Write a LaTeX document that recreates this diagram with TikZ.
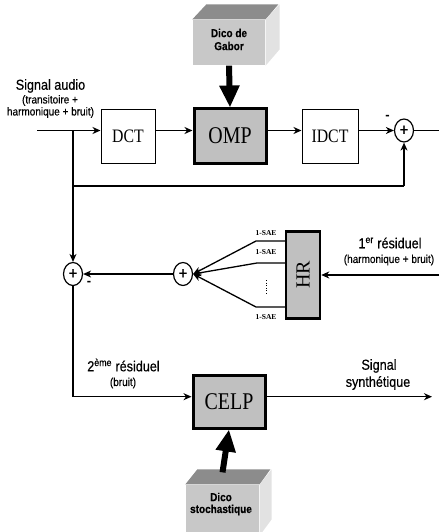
\documentclass[tikz,border=0pt]{standalone}
\usepackage{fontspec}
\setmainfont{Liberation Sans}
\newfontfamily\lblfont[FakeStretch=0.87,FakeBold=0.4]{Liberation Sans}
\newfontfamily\boxfont[FakeStretch=0.83]{Liberation Serif}
\newfontfamily\hrfont{Liberation Serif}
\usetikzlibrary{arrows.meta,shapes.geometric,calc}

\definecolor{boxgray}{RGB}{192,192,192}
\definecolor{cubefront}{RGB}{200,200,200}
\definecolor{cubetop}{RGB}{140,140,140}
\definecolor{cubeside}{RGB}{226,226,226}

\begin{document}
\begin{tikzpicture}[x=1pt,y=-1pt,
  line width=1.3pt,
  >={Stealth[length=8pt,width=7pt,inset=2.5pt]},
  lbl/.style={font=\fontsize{14.5}{16}\selectfont\lblfont,inner sep=0pt},
  sublbl/.style={font=\fontsize{11.5}{13}\selectfont\lblfont,inner sep=0pt},
  cubelbl/.style={font=\fontsize{11.5}{13}\selectfont\lblfont\bfseries,inner sep=0pt},
  sae/.style={font=\fontsize{7.5}{8}\selectfont\hrfont\bfseries,inner sep=0pt},
  thinbox/.style={draw,line width=1pt,fill=white,inner sep=0pt,
    font=\fontsize{19}{20}\selectfont\boxfont},
  thickbox/.style={draw,line width=3pt,fill=boxgray,inner sep=0pt,
    font=\fontsize{24}{26}\selectfont\boxfont},
  sumnode/.style={draw,ellipse,line width=1.2pt,inner sep=0pt,
    minimum width=19pt,minimum height=23pt,
    font=\fontsize{17}{17}\selectfont\lblfont},
  bigarrow/.style={line width=6pt,-{Triangle[length=22pt,width=19pt]}},
  cubeface/.style={inner sep=0pt,fill=cubefront}
]
\useasboundingbox (0,0) rectangle (439,532);

% ---------- codebook cubes ----------
\node[cubeface,minimum width=72pt,minimum height=45pt] (gabor) at (229,42.5) {};
\fill[cubetop] (gabor.north west) -- ++(14,-15) -- ++(72,0) -- (gabor.north east) -- cycle;
\fill[cubeside] (gabor.north east) -- ++(14,-15) -- ++(0,45) -- (gabor.south east) -- cycle;
\node[cubelbl] (gabor1) at (229,33) {Dico de};
\node[cubelbl] (gabor2) at (229,46) {Gabor};

\node[cubeface,minimum width=73pt,minimum height=50pt] (stoch) at (222.5,510) {};
\fill[cubetop] (stoch.north west) -- ++(12,-15) -- ++(73,0) -- (stoch.north east) -- cycle;
\fill[cubeside] (stoch.north east) -- ++(12,-15) -- ++(0,50) -- (stoch.south east) -- cycle;
\node[cubelbl] (stoch1) at (221,497) {Dico};
\node[cubelbl] (stoch2) at (221,510) {stochastique};

% ---------- processing blocks ----------
\node[thinbox,minimum width=54pt,minimum height=53pt] (dct) at (128,136.5) {DCT};
\node[thickbox,minimum width=72pt,minimum height=54pt] (omp) at (230,136) {OMP};
\node[thinbox,minimum width=56pt,minimum height=53pt] (idct) at (330,136.5) {IDCT};
\node[thickbox,minimum width=72pt,minimum height=53pt] (celp) at (229,401.5) {CELP};
\node[draw,line width=2.5pt,fill=boxgray,inner sep=0pt,minimum width=34pt,minimum height=87pt,
  font=\fontsize{20}{20}\selectfont\hrfont] (hr) at (303,275) {\rotatebox{90}{HR}};

% ---------- summing junctions ----------
\node[sumnode] (sum1) at (404,130.5) {+};
\node[sumnode] (sum2) at (73,274) {+};
\node[sumnode] (sum3) at (183,274) {+};

\node[font=\fontsize{13}{13}\selectfont\bfseries,inner sep=0pt] (minus1) at (387.5,117) {-};
\node[font=\fontsize{13}{13}\selectfont\bfseries,inner sep=0pt] (minus2) at (89,283) {-};

% ---------- reference points ----------
\coordinate (in) at (37,130.5);
\coordinate (split) at (73,130.5);
\coordinate (fb) at (73,186);
\coordinate (fbr) at (404,186);
\coordinate (out1) at (439,130.5);
\coordinate (res1) at (439,275);
\coordinate (low) at (73,396.7);
\coordinate (synth) at (432,396.7);
\coordinate (f1) at (256,241);
\coordinate (f2) at (257,263);
\coordinate (f3) at (256,307);

% ---------- connectors ----------
\draw[->] (in) -- (in -| dct.west);
\draw[->] (dct.east |- in) -- (omp.west |- in);
\draw[->] (omp.east |- in) -- (idct.west |- in);
\draw[->] (idct.east |- in) -- (sum1.west);
\draw (sum1.east) -- (out1);
\draw[->] (split) -- (sum2.north);
\draw (fb) -- (fbr);
\draw[->] (fbr) -- (sum1.south);
\draw[->] (sum3.west) -- (sum2.east);
\draw (sum2.south) -- (low);
\draw[->] (low) -- (low -| celp.west);
\draw[->] (celp.east |- synth) -- (synth);
\draw[->] (res1) -- (hr.east |- res1);

\draw[->] (hr.west |- f1) -- (f1) -- (sum3.east);
\draw[->] (hr.west |- f2) -- (f2) -- (sum3.east);
\draw[->] (hr.west |- f3) -- (f3) -- (sum3.east);
\draw[line width=0.6pt,dotted] (266,280) -- (266,295);

\node[sae] (sae1) at (266,233) {1-SAE};
\node[sae] (sae2) at (266,252.5) {1-SAE};
\node[sae] (sae3) at (266,317) {1-SAE};

\draw[bigarrow] (gabor.south) -- (omp.north);
\draw[bigarrow] (stoch.north) ++(0,-12) -- (celp.south);

% ---------- signal labels ----------
\node[lbl] (sa) at (50.5,86) {Signal audio};
\node[sublbl] (sa1) at (50,100.5) {(transitoire +};
\node[sublbl] (sa2) at (50.5,112.5) {harmonique + bruit)};

\node[lbl] (r1) at (390,243) {1\textsuperscript{er} résiduel};
\node[sublbl] (r1b) at (389,260) {(harmonique + bruit)};

\node[lbl] (r2) at (123.5,365) {2\textsuperscript{ème} résiduel};
\node[sublbl] (r2b) at (123,383) {(bruit)};

\node[lbl] (ss1) at (379,366) {Signal};
\node[lbl] (ss2) at (378,383) {synthétique};
\end{tikzpicture}
\end{document}
